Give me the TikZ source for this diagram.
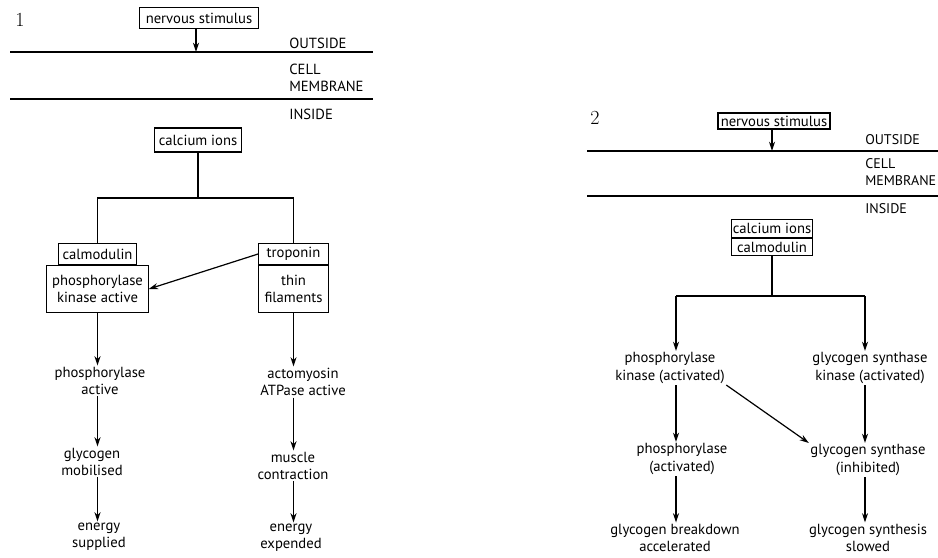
\documentclass[tikz,border=0pt]{standalone}
\usepackage{fontspec}
\newfontfamily\labelfont{PT Sans}
\usetikzlibrary{arrows.meta,positioning}

\begin{document}
\begin{tikzpicture}[x=0.75pt, y=-0.75pt,
    box/.style={rectangle, draw, line width=0.8pt, inner sep=1pt, align=center, font=\labelfont\fontsize{11}{12.5}\selectfont},
    txt/.style={inner sep=1pt, align=center, font=\labelfont\fontsize{11}{13}\selectfont},
    side/.style={anchor=west, inner sep=0pt, align=left, font=\labelfont\fontsize{11}{12.8}\selectfont},
    num/.style={font=\fontsize{15}{17}\selectfont},
    membrane/.style={line width=0.9pt},
    link/.style={line width=0.9pt},
    arrow/.style={-{Stealth[length=7pt,width=4.5pt]}, line width=0.9pt}
  ]
  \clip (0,0) rectangle (938,557);

  % panel 1: muscle
  \node[num] (num1) at (20,20) {1};
  \node[box, minimum width=89pt, minimum height=16pt] (ns1) at (199,18) {nervous stimulus};
  \draw[membrane] (10,52) -- (373,52);
  \draw[membrane] (10,99) -- (373,99);
  \coordinate (out1) at (196,52);
  \node[side] (outside1) at (289,43) {OUTSIDE};
  \node[side] (cell1) at (289,77.5) {CELL\\MEMBRANE};
  \node[side] (inside1) at (289,114) {INSIDE};
  \draw[arrow] (ns1.south -| out1) -- (out1);

  \node[box, minimum width=65pt, minimum height=18pt] (ca1) at (198,140) {calcium ions};
  \node[box, minimum width=76pt, minimum height=35pt] (pk1) at (97.5,289) {phosphorylase\\kinase active};
  \node[box, minimum width=58pt, minimum height=16pt, above=0pt of pk1] (calm1) {calmodulin};
  \node[box, minimum width=52pt, minimum height=35pt] (tf1) at (293.5,289) {thin\\filaments};
  \node[box, minimum width=52pt, minimum height=16pt, above=0pt of tf1] (trop1) {troponin};

  \coordinate (split1) at (198,198);
  \draw[link] (ca1) -- (split1);
  \draw[link] (calm1.north) |- (split1) -| (trop1.north);
  \draw[arrow] (trop1.west) -- (pk1.east);

  \node[txt] (pa1) at (100,381) {phosphorylase\\active};
  \node[txt] (gm1) at (92,462) {glycogen\\mobilised};
  \node[txt] (es1) at (99,537) {energy\\supplied};
  \node[txt] (am1) at (303,382) {actomyosin\\ATPase active};
  \node[txt] (mc1) at (293,466) {muscle\\contraction};
  \node[txt] (ee1) at (291,538) {energy\\expended};

  \draw[arrow] (pk1.south) -- (pk1.south |- pa1.north);
  \draw[arrow] (pk1.south |- pa1.south) -- (pk1.south |- gm1.north);
  \draw[arrow] (pk1.south |- gm1.south) -- (pk1.south |- es1.north);
  \draw[arrow] (tf1.south) -- (tf1.south |- am1.north);
  \draw[arrow] (tf1.south |- am1.south) -- (tf1.south |- mc1.north);
  \draw[arrow] (tf1.south |- mc1.south) -- (tf1.south |- ee1.north);

  % panel 2: liver
  \node[num] (num2) at (595,118) {2};
  \node[box, minimum width=84pt, minimum height=12pt, inner sep=0.5pt] (ns2) at (774,121) {nervous stimulus};
  \draw[membrane] (587,151) -- (938,151);
  \draw[membrane] (587,196) -- (938,196);
  \coordinate (out2) at (772,151);
  \node[side, font=\labelfont\fontsize{10.5}{12.5}\selectfont] (outside2) at (865,140) {OUTSIDE};
  \node[side, font=\labelfont\fontsize{10.5}{12.5}\selectfont] (cell2) at (865,172) {CELL\\MEMBRANE};
  \node[side, font=\labelfont\fontsize{10.5}{12.5}\selectfont] (inside2) at (865,209) {INSIDE};
  \draw[arrow] (ns2.south -| out2) -- (out2);

  \node[box, minimum width=61pt, minimum height=13pt, inner sep=0.5pt] (ca2) at (772,228.5) {calcium ions};
  \node[box, minimum width=61pt, minimum height=13pt, inner sep=0.5pt, below=0pt of ca2] (calm2) {calmodulin};

  \coordinate (split2) at (772,296);
  \coordinate (colL) at (676,296);
  \coordinate (colR) at (865,296);
  \draw[link] (calm2) -- (split2);
  \draw[link] (colL) -- (colR);

  \node[txt] (pkA) at (670,368) {phosphorylase\\kinase (activated)};
  \node[txt] (gskA) at (870,368) {glycogen synthase\\kinase (activated)};
  \node[txt] (phA) at (682,459) {phosphorylase\\(activated)};
  \node[txt] (gsI) at (868,460) {glycogen synthase\\(inhibited)};
  \node[txt] (gbA) at (675,538) {glycogen breakdown\\accelerated};
  \node[txt] (gsS) at (868,538) {glycogen synthesis\\slowed};

  \draw[arrow] (colL) -- (colL |- pkA.north);
  \draw[arrow] (colR) -- (colR |- gskA.north);
  \draw[arrow] (colL |- pkA.south) -- (colL |- phA.north);
  \draw[arrow] (colR |- gskA.south) -- (colR |- gsI.north);
  \draw[arrow] (pkA.south east) -- (gsI.north west);
  \draw[arrow] (colL |- phA.south) -- (colL |- gbA.north);
  \draw[arrow] (colR |- gsI.south) -- (colR |- gsS.north);
\end{tikzpicture}
\end{document}
